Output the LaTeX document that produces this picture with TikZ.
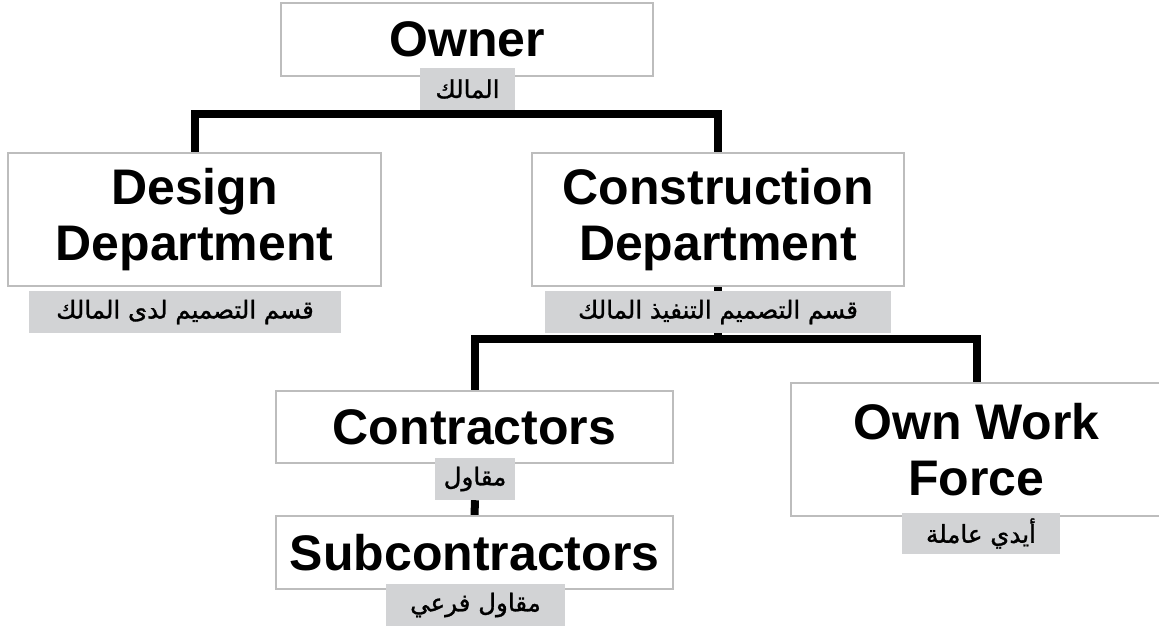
\documentclass[tikz,border=0pt]{standalone}
\usepackage{fontspec}
\setmainfont{Liberation Sans}
\newfontfamily\arabicfont[Script=Arabic, FakeBold=1.2]{DejaVu Sans}
\TeXXeTstate=1
\usetikzlibrary{backgrounds}

\definecolor{labelgrey}{HTML}{D2D3D5}
\definecolor{boxline}{HTML}{BDBDBD}

\tikzset{
  unit/.style={draw=boxline, line width=1.2pt, fill=white, inner sep=0pt,
    align=center, font=\fontsize{50}{56}\selectfont\bfseries},
  tag/.style={fill=labelgrey, inner sep=0pt,
    font=\arabicfont\fontsize{24.5}{28}\selectfont},
  link/.style={line width=8pt, line join=miter, black}
}

\begin{document}
\begin{tikzpicture}[x=1pt, y=-1pt]
\useasboundingbox (0,0) rectangle (1159,630);
\clip (0,0) rectangle (1159,630);

% organisation units
\node[unit, minimum width=372pt, minimum height=73pt]  (owner)  at (467,39.5)   {Owner};
\node[unit, minimum width=373pt, minimum height=133pt] (design) at (194.5,219.5) {Design\\Department};
\node[unit, minimum width=372pt, minimum height=133pt] (constr) at (718,219.5)  {Construction\\Department};
\node[unit, minimum width=397pt, minimum height=72pt]  (contr)  at (474.5,427)  {Contractors};
\node[unit, minimum width=397pt, minimum height=73pt]  (sub)    at (474.5,552.5) {Subcontractors};
\node[unit, minimum width=371pt, minimum height=133pt] (own)    at (976.5,449.5) {Own Work\\Force};

% Arabic captions
\node[tag, minimum width=95pt,  minimum height=42pt] (towner)  at (467.5,89)  {\beginR المالك\endR};
\node[tag, minimum width=312pt, minimum height=42pt] (tdesign) at (185,312)   {\beginR قسم التصميم لدى المالك\endR};
\node[tag, minimum width=346pt, minimum height=42pt] (tconstr) at (718,312)   {\beginR قسم التصميم التنفيذ المالك\endR};
\node[tag, minimum width=80pt,  minimum height=42pt] (tcontr)  at (475,479)   {\beginR مقاول\endR};
\node[tag, minimum width=179pt, minimum height=42pt] (tsub)    at (475.5,605) {\beginR مقاول فرعي\endR};
\node[tag, minimum width=158pt, minimum height=41pt] (town)    at (981,533.5) {\beginR أيدي عاملة\endR};

% junction points of the tree
\coordinate (busA) at (467,114);
\coordinate (busB) at (718,338.5);

% connectors
\begin{scope}[on background layer]
  \draw[link] (towner.south) -- (busA);
  \draw[link] (design.north) |- (busA) -| (constr.north);
  \draw[link] (constr.south) -- (busB);
  \draw[link] (contr.north) |- (busB) -| (own.north);
  \draw[link] (tcontr.south) -- (sub.north);
\end{scope}
\end{tikzpicture}
\end{document}
